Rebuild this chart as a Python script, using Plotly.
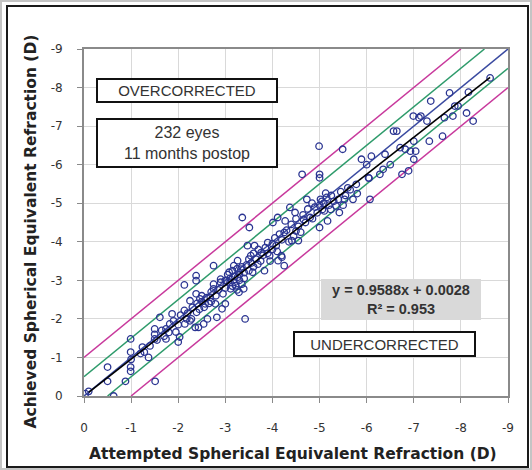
import plotly.graph_objects as go

# Attempted (x) and achieved (y) spherical equivalent refraction, D
attempted = [
    -0.03, -0.10, -0.50, -0.50, -0.63, -0.88, -0.99, -0.99, -0.99, -0.99,
    -1.24, -1.28, -1.37, -1.51, -1.50, -1.50, -1.50, -1.61, -1.74, -1.74,
    -1.82, -1.87, -1.95, -2.00, -2.03, -2.13, -2.13, -2.14, -2.18, -2.25,
    -2.28, -2.36, -2.38, -2.38, -2.38, -2.39, -2.43, -2.46, -2.54, -2.57,
    -2.62, -2.68, -2.75, -2.75, -2.79, -2.82, -2.90, -2.93, -3.00, -3.03,
    -3.08, -3.11, -3.18, -3.22, -3.26, -3.26, -3.29, -3.33, -3.36, -3.39,
    -3.42, -3.51, -3.47, -3.54, -3.58, -3.62, -3.69, -3.76, -3.83, -3.90,
    -3.94, -4.01, -4.08, -4.11, -4.12, -4.19, -4.25, -4.25, -4.27, -4.37,
    -4.41, -4.48, -4.50, -4.55, -4.63, -4.66, -4.73, -4.80, -4.84, -4.99,
    -5.00, -5.00, -5.00, -5.02, -5.06, -5.09, -5.13, -5.17, -5.24, -5.35,
    -5.42, -5.49, -5.53, -5.60, -5.71, -5.78, -5.89, -6.00, -6.04, -6.07,
    -6.10, -6.28, -6.35, -6.39, -6.50, -6.57, -6.64, -6.71, -6.75, -6.82,
    -6.89, -6.93, -6.99, -7.00, -7.00, -7.04, -7.11, -7.15, -7.28, -7.33,
    -7.36, -7.61, -7.65, -7.76, -7.83, -7.87, -7.94, -8.12, -8.16, -8.26,
    -8.62,
    -1.00, -1.20, -1.40, -1.55, -1.65, -1.70, -1.80, -1.90, -2.00, -2.05,
    -2.20, -2.25, -2.30, -2.40, -2.45, -2.50, -2.50, -2.55, -2.60, -2.65,
    -2.70, -2.70, -2.75, -2.80, -2.85, -2.90, -2.95, -3.00, -3.00, -3.05,
    -3.10, -3.10, -3.15, -3.15, -3.20, -3.20, -3.25, -3.25, -3.30, -3.30,
    -3.35, -3.35, -3.40, -3.40, -3.45, -3.50, -3.50, -3.55, -3.60, -3.60,
    -3.65, -3.70, -3.75, -3.80, -3.85, -3.90, -3.95, -4.00, -4.00, -4.05,
    -4.10, -4.15, -4.20, -4.20, -4.30, -4.35, -4.40, -4.45, -4.50, -4.55,
    -4.60, -4.65, -4.70, -4.75, -4.85, -4.90, -4.95, -5.00, -5.05, -5.10,
    -5.15, -5.20, -5.25, -5.30, -5.40, -5.45, -5.50, -5.55, -5.65, -5.80,
    -6.05,
]
achieved = [
    -0.06, -0.12, -0.75, -0.38, 0.00, -0.38, -1.48, -1.14, -0.75, -0.64,
    -1.27, -1.14, -1.00, -0.38, -1.74, -1.60, -1.48, -2.04, -1.74, -1.48,
    -1.87, -2.13, -1.66, -1.40, -1.53, -2.88, -2.22, -1.87, -2.00, -2.47,
    -2.00, -1.78, -3.12, -2.99, -2.65, -2.17, -1.78, -2.52, -1.87, -2.39,
    -2.00, -2.56, -3.38, -2.78, -2.39, -2.04, -3.03, -2.26, -2.39, -2.99,
    -3.21, -2.78, -3.38, -2.86, -3.08, -3.51, -2.69, -3.29, -4.63, -2.78,
    -2.00, -4.37, -3.90, -3.64, -3.21, -3.90, -3.42, -3.72, -3.25, -3.98,
    -3.64, -4.50, -3.90, -4.63, -3.51, -3.64, -4.24, -3.38, -4.54, -4.89,
    -4.03, -4.76, -4.28, -4.03, -5.75, -4.58, -5.10, -4.63, -5.00, -6.48,
    -5.66, -5.75, -4.37, -5.10, -4.84, -5.00, -5.26, -4.54, -4.84, -4.93,
    -4.76, -6.40, -5.10, -5.40, -5.10, -5.49, -6.14, -6.00, -5.66, -5.10,
    -6.22, -5.75, -5.88, -6.27, -6.00, -6.87, -6.87, -6.44, -5.75, -6.40,
    -5.84, -6.35, -7.26, -6.61, -6.14, -6.35, -7.22, -7.26, -7.13, -6.61,
    -7.65, -6.74, -7.22, -7.86, -7.26, -7.52, -7.52, -7.34, -7.88, -7.13,
    -8.25,
    -0.95, -1.10, -1.30, -1.45, -1.70, -1.55, -1.65, -1.95, -1.85, -2.10,
    -2.15, -1.95, -2.30, -2.40, -2.25, -2.45, -2.60, -2.30, -2.55, -2.40,
    -2.70, -2.45, -2.90, -2.60, -2.75, -2.95, -2.65, -3.00, -2.80, -3.15,
    -2.95, -3.05, -2.85, -3.25, -3.10, -2.95, -3.30, -2.75, -3.00, -3.15,
    -3.35, -2.90, -3.20, -3.05, -3.40, -3.25, -3.55, -3.45, -3.35, -3.70,
    -3.55, -3.80, -3.50, -3.65, -3.85, -3.70, -3.50, -3.95, -3.80, -4.10,
    -3.75, -4.20, -4.05, -3.60, -4.30, -4.00, -4.45, -4.15, -4.60, -4.40,
    -4.25, -4.70, -4.50, -4.85, -4.60, -4.90, -4.75, -4.95, -5.05, -4.80,
    -5.15, -4.95, -5.20, -5.05, -5.10, -5.30, -4.95, -5.20, -5.35, -5.25,
    -5.65,
]

x_ticks = [0, -1, -2, -3, -4, -5, -6, -7, -8, -9]
ref_offsets = [1.0, 0.5]          # +/- dioptre bands
slope, intercept = 0.9588, 0.0028  # regression
fit_x = [-0.10, -8.62]
axis_min, axis_max = 0, -9

MAGENTA = "#C8399C"
GREEN = "#2E9B6B"
BLUE = "#3A4AA0"
NAVY = "#2B3592"

fig = go.Figure()

def band_line(off, color):
    # y = x - off (upper) and y = x + off (lower), clipped to the axes box
    xs_u = [axis_min, axis_max + off]
    ys_u = [x - off for x in xs_u]
    xs_l = [axis_min - off, axis_max]
    ys_l = [x + off for x in xs_l]
    for xs, ys in ((xs_u, ys_u), (xs_l, ys_l)):
        fig.add_trace(go.Scatter(x=xs, y=ys, mode="lines",
                                 line=dict(color=color, width=1.5),
                                 hoverinfo="skip", showlegend=False))

band_line(ref_offsets[0], MAGENTA)
band_line(ref_offsets[1], GREEN)
fig.add_trace(go.Scatter(x=[axis_min, axis_max], y=[axis_min, axis_max], mode="lines",
                         line=dict(color=BLUE, width=1.5), showlegend=False))

fig.add_trace(go.Scatter(x=attempted, y=achieved, mode="markers",
                         marker=dict(symbol="circle-open", size=6.5,
                                     color=NAVY, line=dict(width=1.3, color=NAVY)),
                         showlegend=False))

fig.add_trace(go.Scatter(x=fit_x, y=[slope * x + intercept for x in fit_x], mode="lines",
                         line=dict(color="#000000", width=1.6), showlegend=False))

axis_common = dict(
    range=[0, -9], tickvals=x_ticks, ticktext=[str(v) for v in x_ticks],
    showgrid=True, gridcolor="#d9d9d9", gridwidth=1,
    showline=True, linecolor="#8a8a8a", linewidth=2, mirror=True,
    ticks="outside", ticklen=5, tickcolor="#8a8a8a",
    tickfont=dict(family="DejaVu Sans", size=12, color="#333333"),
    zeroline=False,
)
fig.update_xaxes(**axis_common, ticklabelstandoff=15)
fig.update_yaxes(**axis_common, ticklabelstandoff=12)

box_font = dict(family="Liberation Sans, Arial", size=15, color="#333333")
fig.add_annotation(x=-2.19, y=-7.92, text="OVERCORRECTED", showarrow=False,
                   font=box_font, width=176, height=19, borderpad=1,
                   bordercolor="#111111", borderwidth=2, bgcolor="white")
fig.add_annotation(x=-2.19, y=-6.56, text="232 eyes<br>11 months postop", showarrow=False,
                   font=dict(family="Liberation Sans, Arial", size=16, color="#333333"),
                   width=176, height=44, borderpad=1,
                   bordercolor="#111111", borderwidth=2, bgcolor="white")
fig.add_annotation(x=-6.73, y=-2.50, text="<b>y = 0.9588x + 0.0028<br>R² = 0.953</b>",
                   showarrow=False,
                   font=dict(family="Liberation Sans, Arial", size=14.5, color="#333333"),
                   width=156, height=37, borderpad=2, borderwidth=0, bgcolor="#d9d9d9")
fig.add_annotation(x=-6.38, y=-1.35, text="UNDERCORRECTED", showarrow=False,
                   font=box_font, width=177, height=20, borderpad=1,
                   bordercolor="#111111", borderwidth=2, bgcolor="white")

title_font = dict(family="DejaVu Sans", size=15.5, color="#222222")
fig.add_annotation(xref="paper", yref="paper", x=0.492, y=-0.167,
                   text="<b>Attempted Spherical Equivalent Refraction (D)</b>",
                   showarrow=False, font=title_font, xanchor="center", yanchor="middle")
fig.add_annotation(xref="paper", yref="paper", x=-0.126, y=0.473,
                   text="<b>Achieved Spherical Equivalent Refraction (D)</b>",
                   showarrow=False, font=title_font, textangle=-90,
                   xanchor="center", yanchor="middle")

# outer frames
fig.add_shape(type="rect", xref="paper", yref="paper",
              x0=(1 - 84) / 424, x1=(531 - 84) / 424,
              y0=(396 - 469) / 347, y1=(396 - 1) / 347,
              line=dict(color="#c4c4c4", width=2), layer="below")
fig.add_shape(type="rect", xref="paper", yref="paper",
              x0=(7 - 84) / 424, x1=(528 - 84) / 424,
              y0=(396 - 467) / 347, y1=(396 - 6) / 347,
              line=dict(color="#1a1a1a", width=2), layer="below")

fig.update_layout(
    width=532, height=470,
    margin=dict(l=84, r=24, t=49, b=74),
    paper_bgcolor="white", plot_bgcolor="white",
    showlegend=False,
)

fig.write_html("out.html", config={"displayModeBar": False},
               post_script="document.body.style.margin='0';document.body.style.overflow='hidden';")
